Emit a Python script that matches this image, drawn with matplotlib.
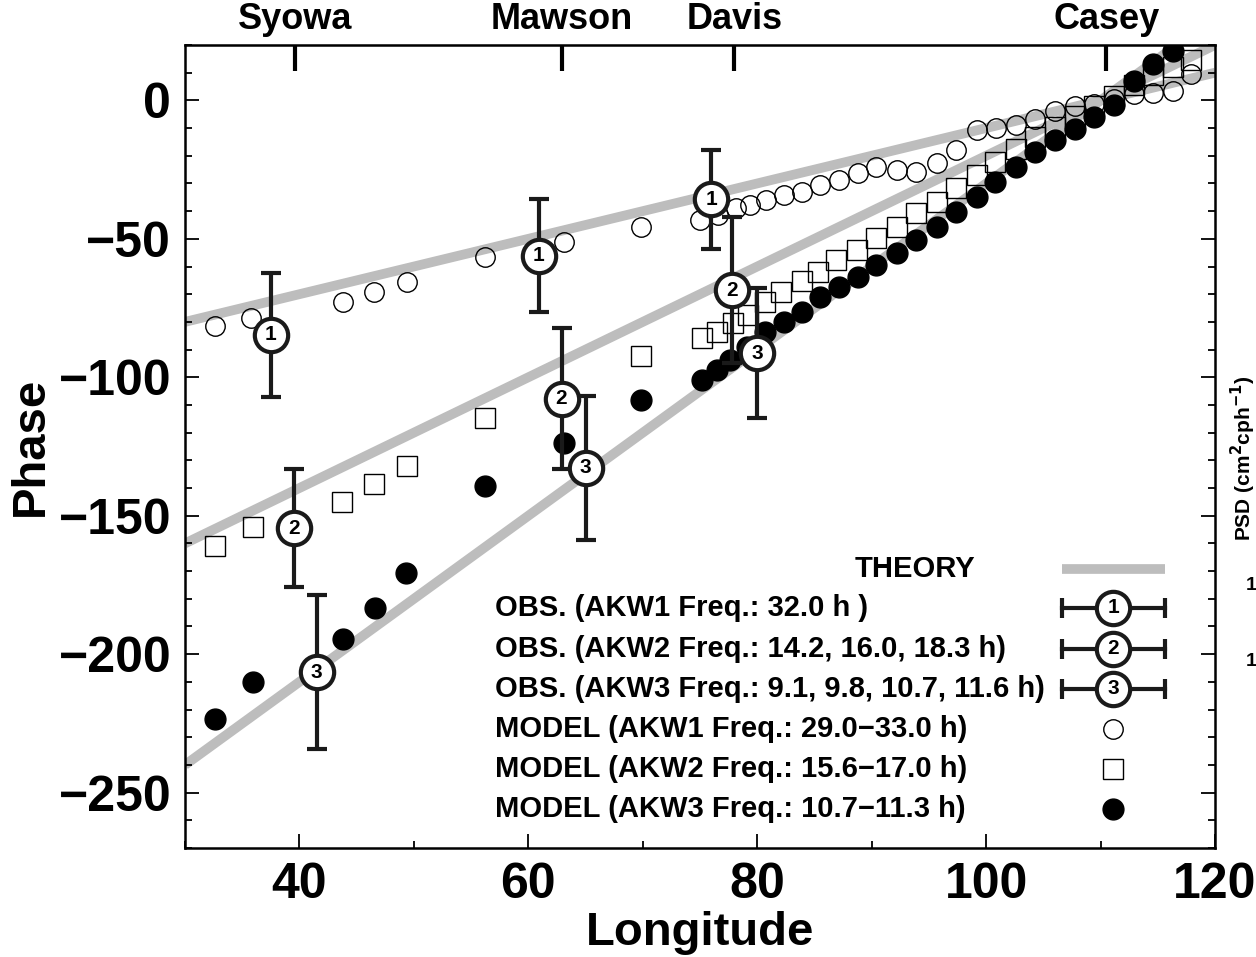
import numpy as np
import matplotlib
matplotlib.use('Agg')
import matplotlib.pyplot as plt
from matplotlib.ticker import MultipleLocator

plt.rcParams['font.family'] = ['Liberation Sans', 'DejaVu Sans']
plt.rcParams['font.weight'] = 'bold'

# --- data ---
stations = ['Syowa', 'Mawson', 'Davis', 'Casey']
station_lon = [39.6, 62.9, 78.0, 110.5]

theory_x = [30, 120]
theory_akw1 = [-80, 10]
theory_akw2 = [-160, 20]
theory_akw3 = [-240, 30]

obs1_x = [37.5, 60.9, 76.0]
obs1_y = [-84.7, -56.2, -35.8]
obs1_err = [22.3, 20.4, 18.0]
obs2_x = [39.5, 62.9, 77.8]
obs2_y = [-154.5, -107.7, -68.5]
obs2_err = [21.2, 25.4, 26.5]
obs3_x = [41.5, 65.0, 80.0]
obs3_y = [-206.5, -132.7, -91.3]
obs3_err = [27.8, 26.0, 23.4]

mod1_x = [32.6, 35.8, 43.8, 46.5, 49.4, 56.2, 63.1, 69.8, 75.0, 76.6, 78.1, 79.4,
          80.8, 82.3, 83.9, 85.5, 87.1, 88.8, 90.4, 92.2, 93.9, 95.7, 97.4, 99.2,
          100.9, 102.6, 104.3, 106.0, 107.8, 109.4, 111.2, 112.9, 114.6, 116.3, 117.9]
mod1_y = [-81.4, -78.7, -73.0, -69.1, -65.7, -56.7, -51.3, -45.7, -43.2, -41.5, -39.0, -37.8,
          -36.0, -34.2, -33.0, -30.6, -28.8, -26.4, -24.0, -25.2, -25.8, -22.8, -18.0, -10.8,
          -9.9, -9.0, -6.6, -3.8, -2.0, -1.2, 0.6, 2.4, 2.6, 3.2, 9.6]

mod2_x = [32.6, 35.9, 43.7, 46.5, 49.4, 56.2, 69.8, 75.15, 76.5, 77.9, 79.2, 80.7,
          82.1, 83.9, 85.3, 86.9, 88.7, 90.4, 92.2, 93.9, 95.7, 97.4, 99.2, 100.8,
          102.6, 104.3, 106.0, 107.8, 109.4, 111.2, 112.9, 114.6, 116.3, 117.9]
mod2_y = [-161, -154, -145, -138.5, -132.1, -114.7, -92.5, -85.9, -83.5, -80.5, -77.5, -72.7,
          -69.1, -65.4, -61.9, -57.7, -54.1, -49.8, -45.6, -40.8, -36.6, -31.8, -27.0, -22.2,
          -17.4, -13.2, -9.5, -5.5, -2.2, 1.5, 5.5, 9.0, 12.0, 14.4]

mod3_x = [32.6, 35.9, 43.8, 46.6, 49.3, 56.2, 63.1, 69.8, 75.15, 76.5, 77.6, 79.1,
          80.7, 82.3, 83.9, 85.5, 87.1, 88.8, 90.4, 92.2, 93.9, 95.7, 97.4, 99.2,
          100.8, 102.6, 104.3, 106.0, 107.8, 109.4, 111.2, 112.9, 114.6, 116.3]
mod3_y = [-223.4, -210.2, -194.6, -183.2, -170.6, -139.3, -123.9, -108.1, -100.9, -97.3, -93.7, -88.9,
          -83.5, -79.9, -76.3, -70.9, -67.3, -63.7, -59.5, -55.2, -50.5, -45.7, -40.2, -34.8,
          -29.4, -24.0, -18.6, -14.4, -10.2, -6.0, -1.5, 7.0, 13.0, 18.0]

legend_labels = ['OBS. (AKW1 Freq.: 32.0 h )',
                 'OBS. (AKW2 Freq.: 14.2, 16.0, 18.3 h)',
                 'OBS. (AKW3 Freq.: 9.1, 9.8, 10.7, 11.6 h)',
                 'MODEL (AKW1 Freq.: 29.0\u221233.0 h)',
                 'MODEL (AKW2 Freq.: 15.6\u221217.0 h)',
                 'MODEL (AKW3 Freq.: 10.7\u221211.3 h)']

gray = '#bdbdbd'
ink = '#1a1a1a'

fig = plt.figure(figsize=(12.56, 9.57), dpi=100)
ax = fig.add_axes([0.1473, 0.1139, 0.8201, 0.8391])

# theory lines
for ty in (theory_akw1, theory_akw2, theory_akw3):
    ax.plot(theory_x, ty, color=gray, lw=7, solid_capstyle='butt', zorder=1)

# model points
ax.plot(mod1_x, mod1_y, 'o', ms=14, mfc='none', mec='k', mew=1.0, zorder=2)
ax.plot(mod2_x, mod2_y, 's', ms=14.5, mfc='none', mec='k', mew=1.0, zorder=2)
ax.plot(mod3_x, mod3_y, 'o', ms=15, mfc='k', mec='k', mew=1.0, zorder=2)

# observations with error bars
for n, (ox, oy, oe) in enumerate([(obs1_x, obs1_y, obs1_err),
                                  (obs2_x, obs2_y, obs2_err),
                                  (obs3_x, obs3_y, obs3_err)], start=1):
    ax.errorbar(ox, oy, yerr=oe, fmt='none', ecolor=ink, elinewidth=3,
                capsize=7, capthick=3, zorder=3)
    ax.plot(ox, oy, 'o', ms=24, mfc='white', mec=ink, mew=3, zorder=4)
    for a, b in zip(ox, oy):
        ax.text(a, b, str(n), ha='center', va='center', fontsize=15,
                fontweight='bold', zorder=5)

ax.set_xlim(30, 120)
ax.set_ylim(-270, 20)
ax.xaxis.set_major_locator(MultipleLocator(20))
ax.xaxis.set_minor_locator(MultipleLocator(10))
ax.yaxis.set_major_locator(MultipleLocator(50))
ax.yaxis.set_minor_locator(MultipleLocator(10))
ax.tick_params(which='both', direction='in', top=False, right=True, width=1.3)
ax.tick_params(which='major', length=10, labelsize=36, pad=10)
ax.tick_params(which='minor', length=5)
for sp in ax.spines.values():
    sp.set_linewidth(1.8)

ax.set_xlabel('Longitude', fontsize=34, fontweight='bold')
ax.set_ylabel('Phase', fontsize=34, fontweight='bold')
ax.xaxis.set_label_coords(0.5, -0.078)
ax.yaxis.set_label_coords(-0.128, 0.5)

# station ticks on top
top = ax.secondary_xaxis('top')
top.set_xticks(station_lon)
top.set_xticklabels(stations)
top.tick_params(direction='in', length=19, width=3, labelsize=26, pad=6)
top.xaxis.set_minor_locator(plt.NullLocator())

# legend drawn by hand
tx = 0.301
rows = [0.299, 0.248, 0.198, 0.148, 0.098, 0.049]
sx0, sx1, sxc = 0.851, 0.951, 0.901
ax.text(0.650, 0.347, 'THEORY', transform=ax.transAxes, fontsize=21,
        fontweight='bold', va='center')
ax.plot([sx0, sx1], [0.347, 0.347], transform=ax.transAxes, color=gray, lw=7,
        solid_capstyle='butt')
for i, lab in enumerate(legend_labels):
    ax.text(tx, rows[i], lab, transform=ax.transAxes, fontsize=21,
            fontweight='bold', va='center')
for i in range(3):
    y = rows[i]
    ax.plot([sx0, sx1], [y, y], transform=ax.transAxes, color=ink, lw=3, zorder=3)
    ax.plot([sx0, sx1], [y, y], '|', transform=ax.transAxes, color=ink,
            ms=15, mew=3, zorder=3)
    ax.plot([sxc], [y], 'o', transform=ax.transAxes, ms=24, mfc='white',
            mec=ink, mew=3, zorder=4)
    ax.text(sxc, y, str(i + 1), transform=ax.transAxes, ha='center', va='center',
            fontsize=15, fontweight='bold', zorder=5)
ax.plot([sxc], [rows[3]], 'o', transform=ax.transAxes, ms=14, mfc='none', mec='k', mew=1.0)
ax.plot([sxc], [rows[4]], 's', transform=ax.transAxes, ms=14.5, mfc='none', mec='k', mew=1.0)
ax.plot([sxc], [rows[5]], 'o', transform=ax.transAxes, ms=15, mfc='k', mec='k')

# fragments of the neighbouring panel at the right edge
fig.text(1243 / 1256, 1 - 458 / 957, 'PSD (cm$^{\\mathbf{2}}$cph$^{\\mathbf{-1}}$)',
         rotation=90, ha='center', va='center', fontsize=15, fontweight='bold')
fig.text(1246 / 1256, 1 - 585 / 957, '1', ha='left', va='center', fontsize=14, fontweight='bold')
fig.text(1246 / 1256, 1 - 662 / 957, '1', ha='left', va='center', fontsize=14, fontweight='bold')

fig.savefig('out.png', dpi=100)
